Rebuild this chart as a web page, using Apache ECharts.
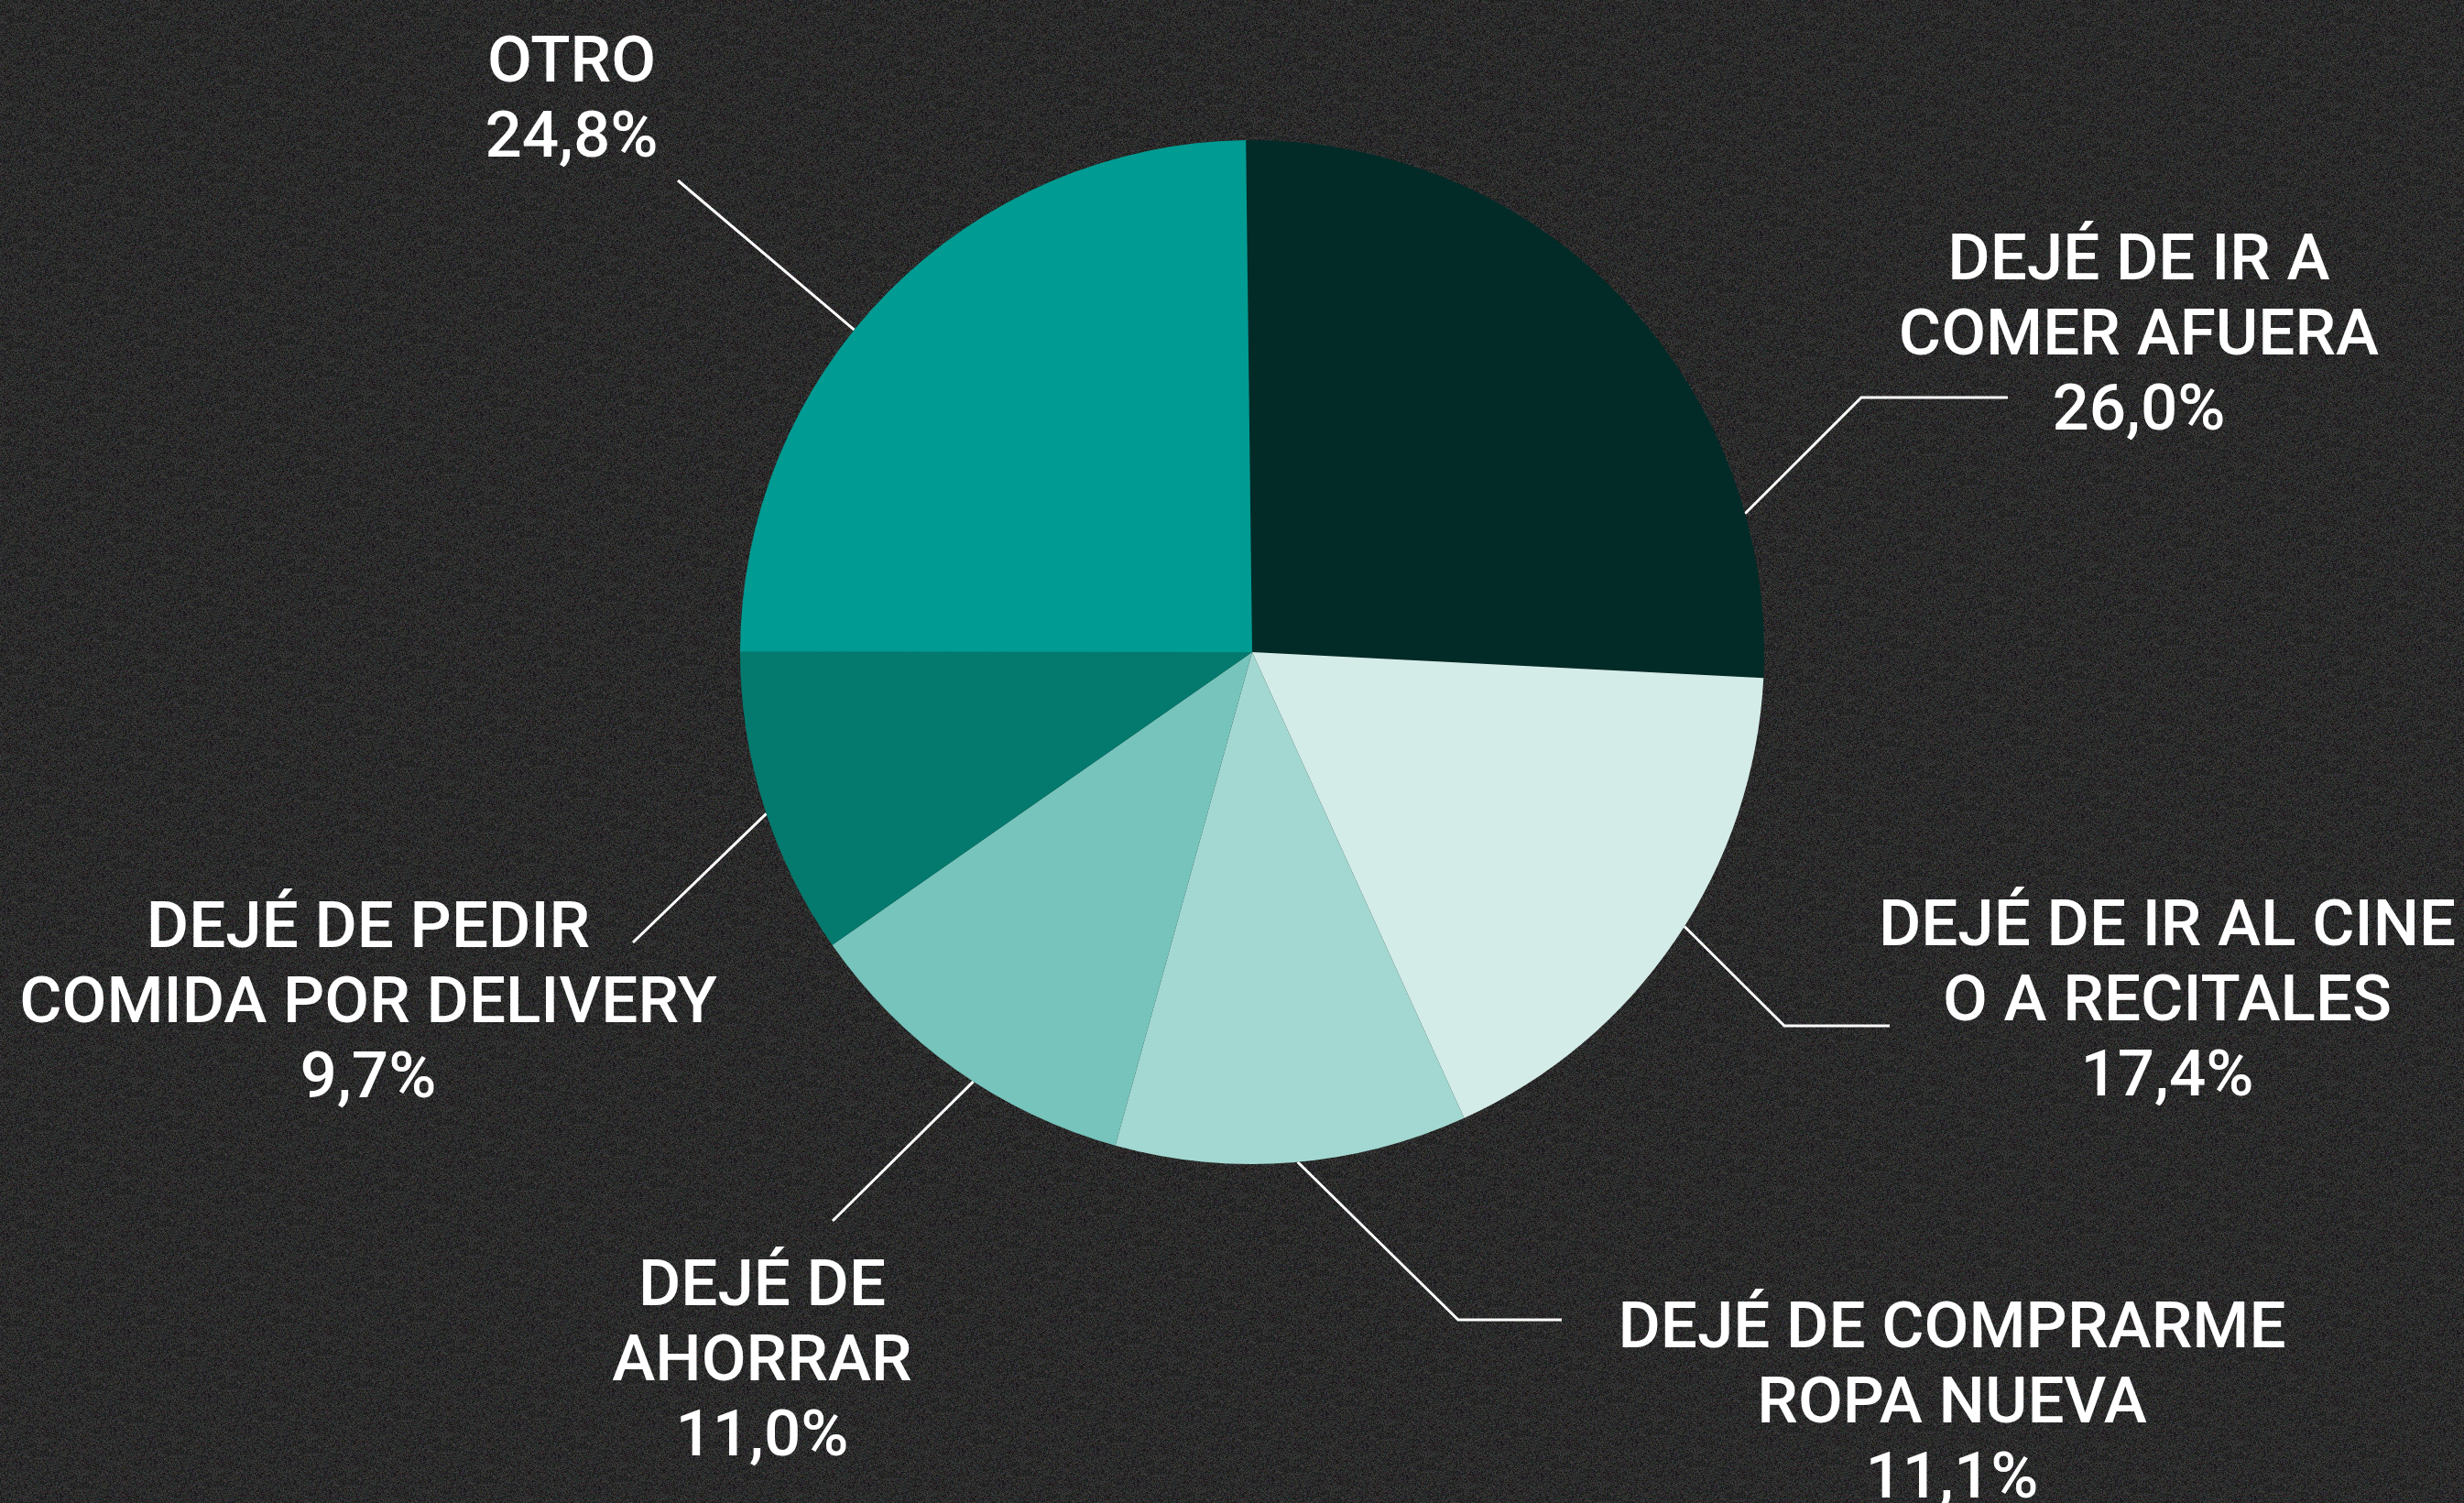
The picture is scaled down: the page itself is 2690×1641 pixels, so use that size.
<!DOCTYPE html>
<html>
<head>
<meta charset="utf-8">
<script src="https://cdn.jsdelivr.net/npm/echarts@6/dist/echarts.min.js"></script>
<style>
  html, body { margin: 0; padding: 0; background: #222222; }
  #grain { position: absolute; left: 0; top: 0; }
  #chart { position: absolute; left: 0; top: 0; width: 2690px; height: 1641px; }
</style>
</head>
<body>
<canvas id="grain" width="2690" height="1641"></canvas>
<div id="chart"></div>
<script>
// categories and shares (%), clockwise from 12 o'clock
const categories = [
  'DEJÉ DE IR A\nCOMER AFUERA',
  'DEJÉ DE IR AL CINE\nO A RECITALES',
  'DEJÉ DE COMPRARME\nROPA NUEVA',
  'DEJÉ DE\nAHORRAR',
  'DEJÉ DE PEDIR\nCOMIDA POR DELIVERY',
  'OTRO'
]
const shares = [26.0, 17.4, 11.1, 11.0, 9.7, 24.8]
const colors = ['#022b28', '#d4ece8', '#a3d8d2', '#76c4bc', '#047a6e', '#009b92']

// label placement (hand placed in the original)
const CX = 1367
const CY = 712
const R = 559
const anchorAngle = [15.7, -32.4, -84.9, -123, -161.6, 141] // where the leader leaves the pie, degrees
const leaderBends = [
  [[2032, 434], [2192, 434]],
  [[1948, 1120], [2063, 1120]],
  [[1592, 1441], [1705, 1441]],
  [[909, 1333]],
  [[691, 1029]],
  [[740, 197]]
]
const labelCenters = [[2335, 369], [2366, 1096], [2131, 1535], [832, 1489], [402, 1098], [624, 112]]

// film grain backdrop, deterministic
;(function drawGrain () {
  const cv = document.getElementById('grain')
  const ctx = cv.getContext('2d')
  const img = ctx.createImageData(cv.width, cv.height)
  let s = 12345
  const rnd = () => { s = (s * 1103515245 + 12345) & 0x7fffffff; return s / 0x7fffffff }
  for (let p = 0; p < img.data.length; p += 4) {
    const base = 22 + rnd() * 40
    img.data[p] = base + (rnd() - 0.5) * 18
    img.data[p + 1] = base + (rnd() - 0.5) * 18
    img.data[p + 2] = base + (rnd() - 0.5) * 18
    img.data[p + 3] = 255
  }
  ctx.putImageData(img, 0, 0)
})()

const chart = echarts.init(document.getElementById('chart'))

chart.setOption({
  backgroundColor: 'transparent',
  animation: false,
  series: [{
    type: 'pie',
    center: [CX, CY],
    radius: R,
    startAngle: 90.7,
    clockwise: true,
    avoidLabelOverlap: false,
    emphasis: { disabled: true },
    data: categories.map((name, i) => ({
      name,
      value: shares[i],
      itemStyle: { color: colors[i] }
    })),
    label: {
      show: true,
      position: 'outside',
      color: '#ffffff',
      fontFamily: 'Roboto',
      fontWeight: 500,
      fontSize: 71,
      lineHeight: 82,
      formatter: p => p.name + '\n' + p.value.toFixed(1).replace('.', ',') + '%'
    },
    labelLine: {
      show: true,
      lineStyle: { color: '#ffffff', width: 3 }
    },
    labelLayout: params => {
      const i = params.dataIndex
      const a = anchorAngle[i] * Math.PI / 180
      const start = [CX + R * Math.cos(a), CY - R * Math.sin(a)]
      return {
        x: labelCenters[i][0],
        y: labelCenters[i][1],
        align: 'center',
        verticalAlign: 'middle',
        labelLinePoints: [start].concat(leaderBends[i])
      }
    }
  }]
})
</script>
</body>
</html>
